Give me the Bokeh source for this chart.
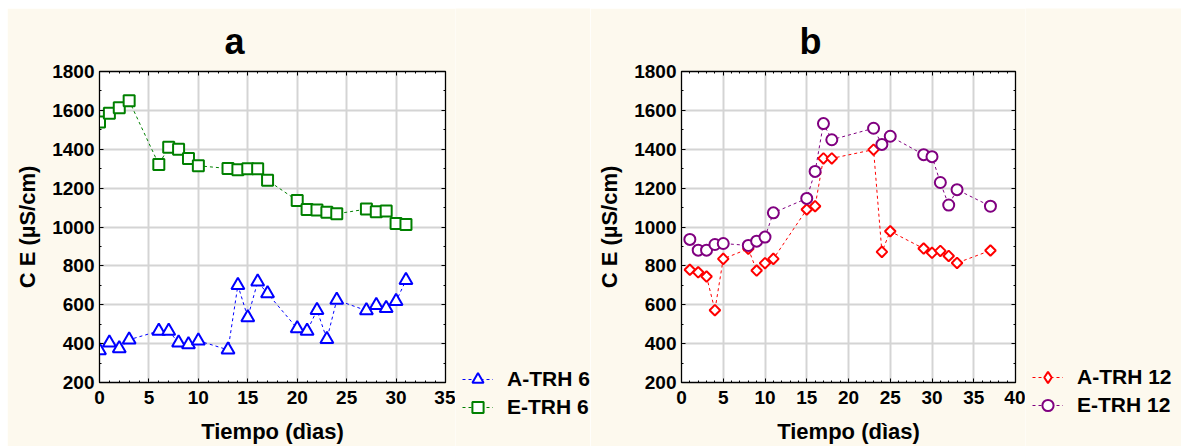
import numpy as np
from bokeh.plotting import figure
from bokeh.layouts import row
from bokeh.models import (Range1d, LinearAxis, SingleIntervalTicker, Legend, LegendItem, Title)
from bokeh.embed import file_html
from bokeh.resources import INLINE

# ---- data ----
dias_a = [0, 1, 2, 3, 6, 7, 8, 9, 10, 13, 14, 15, 16, 17, 20, 21, 22, 23, 24, 27, 28, 29, 30, 31]
a_trh6 = [365, 405, 375, 420, 465, 465, 405, 395, 415, 368, 700, 535, 718, 658, 478, 465, 572, 423, 624, 570, 598, 582, 618, 726]
e_trh6 = [1540, 1585, 1613, 1649, 1322, 1410, 1400, 1352, 1315, 1301, 1295, 1300, 1300, 1240, 1136, 1090, 1087, 1076, 1068, 1092, 1078, 1082, 1018, 1013]

dias_b = [1, 2, 3, 4, 5, 8, 9, 10, 11, 15, 16, 17, 18, 23, 24, 25, 29, 30, 31, 32, 33, 37]
a_trh12 = [780, 767, 745, 572, 836, 888, 776, 814, 836, 1090, 1107, 1353, 1353, 1398, 872, 978, 889, 867, 877, 851, 815, 879]
e_trh12 = [936, 881, 881, 910, 915, 905, 927, 948, 1073, 1147, 1286, 1532, 1449, 1508, 1425, 1467, 1372, 1362, 1229, 1113, 1192, 1107]

FONT = "Liberation Sans"
CREAM = "#fdf9ee"
GRID = "#d4d4d4"
DASH = "3 3"


def make_panel(letter, xmax, width, left, title_offset, series):
    p = figure(width=width, height=438, output_backend="svg", toolbar_location=None,
               x_range=Range1d(0, xmax), y_range=Range1d(200, 1800),
               min_border_left=left, min_border_right=10,
               min_border_top=63, min_border_bottom=63)
    p.border_fill_color = CREAM
    p.background_fill_color = "white"
    p.outline_line_color = "black"
    p.outline_line_width = 1.3
    p.title = Title(text=letter, align="left", offset=title_offset,
                    text_font=FONT, text_font_size="36px", text_font_style="bold",
                    text_color="black", standoff=20)

    xt = SingleIntervalTicker(interval=5, num_minor_ticks=5)
    yt = SingleIntervalTicker(interval=200, num_minor_ticks=2)
    p.xaxis.ticker = xt
    p.yaxis.ticker = yt
    p.xgrid.ticker = xt
    p.ygrid.ticker = yt
    for g in (p.xgrid, p.ygrid):
        g.grid_line_color = GRID
        g.grid_line_width = 2

    for ax in (p.xaxis, p.yaxis):
        ax.axis_line_color = "black"
        ax.major_tick_in = 4
        ax.major_tick_out = 0
        ax.minor_tick_in = 2
        ax.minor_tick_out = 0
        ax.major_label_text_font = FONT
        ax.major_label_text_font_size = "19px"
        ax.major_label_text_font_style = "bold"
        ax.major_label_text_color = "black"
        ax.axis_label_text_font = FONT
        ax.axis_label_text_font_size = "22px"
        ax.axis_label_text_font_style = "bold"
        ax.axis_label_text_color = "black"
    p.xaxis.axis_label = "Tiempo (dìas)"
    p.yaxis.axis_label = "C E (µS/cm)"
    p.xaxis.major_label_standoff = 8
    p.yaxis.major_label_standoff = 5
    p.xaxis.axis_label_standoff = 12
    p.yaxis.axis_label_standoff = 9

    for side, tk in (("right", yt), ("above", xt)):
        ax = LinearAxis(ticker=tk, major_label_text_font_size="0px",
                        major_tick_in=4, major_tick_out=0, minor_tick_in=2, minor_tick_out=0,
                        major_label_standoff=0, axis_line_color="black")
        p.add_layout(ax, side)

    for (xs, ys, color, marker, lmarker, size, angle, name) in series:
        p.line(xs, ys, line_color=color, line_width=1, line_dash=DASH)
        p.scatter(xs, ys, marker=marker, size=size, angle=angle,
                  line_color=color, line_width=2, fill_color="white")
    return p


def make_legend(width, loc, series):
    q = figure(width=width, height=438, output_backend="svg", toolbar_location=None,
               x_axis_type=None, y_axis_type=None, min_border=0,
               min_border_left=0, min_border_right=0, min_border_top=0, min_border_bottom=0,
               x_range=Range1d(0, 1), y_range=Range1d(0, 1))
    q.frame_align = False
    q.border_fill_color = CREAM
    q.background_fill_color = CREAM
    q.outline_line_color = None
    q.grid.visible = False
    items = []
    nan = [float("nan")]
    for (xs, ys, color, marker, lmarker, size, angle, name) in series:
        ln = q.line(nan, nan, line_color=color, line_width=1, line_dash=DASH)
        sc = q.scatter(nan, nan, marker=lmarker, line_color=color, line_width=2, fill_color="white")
        items.append(LegendItem(label=name, renderers=[ln, sc]))
    leg = Legend(items=items, location=loc, orientation="vertical",
                 background_fill_alpha=0, border_line_color=None,
                 padding=0, margin=0, spacing=0,
                 glyph_width=31, glyph_height=28, label_height=28, label_standoff=14,
                 label_text_font=FONT, label_text_font_size="21px",
                 label_text_font_style="bold", label_text_color="black")
    q.add_layout(leg, "center")
    return q


series_a = [(dias_a, a_trh6, "#0000ff", "triangle", "triangle", 13, 0, "A-TRH 6"),
            (dias_a, e_trh6, "#008000", "square", "square", 11, 0, "E-TRH 6")]
series_b = [(dias_b, a_trh12, "#ff0000", "square", "diamond", 7.5, np.pi / 4, "A-TRH 12"),
            (dias_b, e_trh12, "#800080", "circle", "circle", 11, 0, "E-TRH 12")]

pa = make_panel("a", 35, 448, 92, 125, series_a)
la = make_legend(135, (7, 25), series_a)
pb = make_panel("b", 40, 435, 91, 118, series_b)
lb = make_legend(156, (7, 27), series_b)
pa.margin = (8, 0, 0, 7)
la.margin = (8, 0, 0, 0)
pb.margin = (8, 0, 0, 0)
lb.margin = (8, 0, 0, 0)

layout = row(pa, la, pb, lb, spacing=0)
open("out.html", "w").write(file_html(layout, INLINE))
